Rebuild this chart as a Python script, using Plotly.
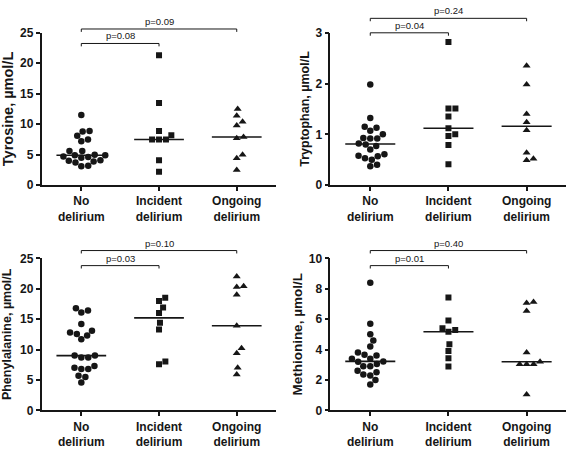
import numpy as np
import plotly.graph_objects as go

# ---------------- data ----------------
groups = ["No<br>delirium", "Incident<br>delirium", "Ongoing<br>delirium"]

tyr_no = [11.5, 8.9, 8.8, 8.1, 7.5, 7.2, 5.6, 5.6, 5.0, 4.9, 4.9, 4.7, 4.6, 4.5, 4.1, 4.0, 3.9, 3.7, 3.2, 3.1]
tyr_inc = [21.3, 13.5, 8.9, 8.2, 7.5, 7.5, 7.5, 4.1, 2.2]
tyr_ong = [12.5, 11.4, 10.4, 9.8, 7.9, 7.7, 5.0, 4.4, 2.5]

trp_no = [1.98, 1.32, 1.15, 1.13, 1.07, 1.0, 0.93, 0.92, 0.92, 0.82, 0.80, 0.77, 0.70, 0.61, 0.58, 0.57, 0.53, 0.50, 0.40, 0.37]
trp_inc = [2.82, 1.51, 1.51, 1.35, 1.12, 1.0, 0.97, 0.79, 0.41]
trp_ong = [2.35, 1.98, 1.40, 1.24, 1.08, 0.64, 0.52, 0.49]

phe_no = [16.8, 16.4, 16.1, 14.2, 13.1, 12.8, 12.55, 12.3, 11.7, 9.0, 9.0, 8.7, 8.7, 7.3, 7.0, 6.8, 6.8, 5.7, 5.5, 4.6]
phe_inc = [18.5, 18.0, 16.9, 16.0, 14.4, 13.3, 8.05, 7.6]
phe_ong = [22.0, 20.4, 20.3, 19.0, 13.9, 10.2, 9.4, 7.0, 5.9]

met_no = [8.4, 5.7, 5.0, 4.6, 4.2, 3.8, 3.65, 3.6, 3.4, 3.4, 3.22, 3.2, 3.05, 2.9, 2.9, 2.6, 2.5, 2.35, 2.3, 2.0, 1.7]
met_inc = [7.42, 5.91, 5.4, 5.28, 5.17, 4.34, 3.9, 3.43, 2.88]
met_ong = [7.12, 7.06, 6.53, 3.81, 3.2, 3.03, 3.03, 3.03, 1.04]

y_titles = ["Tyrosine, µmol/L", "Tryptophan, µmol/L", "Phenylalanine, µmol/L", "Methionine, µmol/L"]
y_max = [25, 3, 25, 10]
y_dtick = [5, 1, 5, 2]
p_incident = ["p=0.08", "p=0.04", "p=0.03", "p=0.01"]
p_ongoing = ["p=0.09", "p=0.24", "p=0.10", "p=0.40"]

panel_data = [
    [tyr_no, tyr_inc, tyr_ong],
    [trp_no, trp_inc, trp_ong],
    [phe_no, phe_inc, phe_ong],
    [met_no, met_inc, met_ong],
]

# ---------------- layout helpers ----------------
W, H = 567, 449
X_MIN, X_MAX = -0.51, 2.5


def fx(px):
    return px / W


def fy(py):
    return 1 - py / H


dom_x = [[fx(37), fx(273)], [fx(328.3), fx(565.7)]] * 2
dom_y = [[fy(184.3), fy(26.7)]] * 2 + [[fy(417.3), fy(260)]] * 2
panel_w_px = 236.0
panel_h_px = 157.6
bracket_levels = [(0.93, 1.025), (1.0, 1.095), (0.952, 1.051), (0.952, 1.051)]
title_sizes = [14.5, 12.5, 12.5, 13.5]
title_standoff = [10, 3, 10, 3]

symbols = ["circle", "square", "triangle-up"]
sizes = [6.5, 6, 7]
INK = "#161616"
FONT = "Liberation Sans, Arial, sans-serif"


def swarm(vals, ymax, d=7.0):
    """Deterministic beeswarm offsets (in x data units)."""
    ypx = np.asarray(vals, float) / ymax * panel_h_px
    order = np.argsort(ypx)
    placed = []
    offs = np.zeros(len(vals))
    for i in order:
        y = ypx[i]
        cands = [0.0]
        for xj, yj in placed:
            dy = abs(y - yj)
            if dy < d:
                dx = np.sqrt(d * d - dy * dy)
                cands += [xj + dx, xj - dx]
        valid = [c for c in cands
                 if all((c - xj) ** 2 + (y - yj) ** 2 >= d * d - 1e-6 for xj, yj in placed)]
        best = min(valid, key=lambda c: (round(abs(c), 6), -c))
        placed.append((best, y))
        offs[i] = best
    return offs / (panel_w_px / (X_MAX - X_MIN))


fig = go.Figure()
shapes = []
annotations = []

for p in range(4):
    xa = "x" if p == 0 else f"x{p + 1}"
    ya = "y" if p == 0 else f"y{p + 1}"
    for g in range(3):
        vals = panel_data[p][g]
        xs = g + swarm(vals, y_max[p])
        fig.add_trace(go.Scatter(
            x=xs, y=vals, mode="markers", xaxis=xa, yaxis=ya,
            marker=dict(symbol=symbols[g], size=sizes[g], color=INK, line=dict(width=0)),
            showlegend=False, hoverinfo="y"))
        med = float(np.median(vals))
        fig.add_trace(go.Scatter(
            x=[g - 0.32, g + 0.32], y=[med, med], mode="lines", xaxis=xa, yaxis=ya,
            line=dict(color=INK, width=1.6), showlegend=False, hoverinfo="skip"))

    # brackets
    tick = 3.0 / panel_h_px
    for (g1, g2, txt, lvl) in [(0, 1, p_incident[p], bracket_levels[p][0]),
                               (0, 2, p_ongoing[p], bracket_levels[p][1])]:
        x1 = (g1 - X_MIN) / (X_MAX - X_MIN)
        x2 = (g2 - X_MIN) / (X_MAX - X_MIN)
        ref = dict(xref=f"{xa} domain", yref=f"{ya} domain")
        line = dict(color=INK, width=1)
        shapes.append(dict(type="line", x0=x1, x1=x2, y0=lvl, y1=lvl, line=line, **ref))
        shapes.append(dict(type="line", x0=x1, x1=x1, y0=lvl, y1=lvl - tick, line=line, **ref))
        shapes.append(dict(type="line", x0=x2, x1=x2, y0=lvl, y1=lvl - tick, line=line, **ref))
        annotations.append(dict(x=(x1 + x2) / 2, y=lvl, text=txt, showarrow=False,
                                xanchor="center", yanchor="bottom", yshift=0,
                                font=dict(size=9.5, color=INK, family=FONT),
                                **ref))

axis_common = dict(showline=True, linecolor=INK, linewidth=1.6, ticks="outside",
                   ticklen=4, tickwidth=1.6, tickcolor=INK, showgrid=False, zeroline=False,
                   tickfont=dict(size=12, color=INK, family=FONT, weight="bold"))

layout = dict(
    width=W, height=H, margin=dict(l=0, r=0, t=0, b=0),
    paper_bgcolor="white", plot_bgcolor="white",
    font=dict(family=FONT, color=INK),
    shapes=shapes, annotations=annotations,
)
for p in range(4):
    xk = "xaxis" if p == 0 else f"xaxis{p + 1}"
    yk = "yaxis" if p == 0 else f"yaxis{p + 1}"
    ya = "y" if p == 0 else f"y{p + 1}"
    xa = "x" if p == 0 else f"x{p + 1}"
    layout[xk] = dict(axis_common, domain=dom_x[p], range=[X_MIN, X_MAX], anchor=ya,
                      tickvals=[0, 1, 2], ticktext=groups)
    layout[yk] = dict(axis_common, domain=dom_y[p], range=[0, y_max[p]], anchor=xa,
                      dtick=y_dtick[p], tick0=0,
                      title=dict(text=y_titles[p], standoff=title_standoff[p],
                                 font=dict(size=title_sizes[p], color=INK, family=FONT,
                                           weight="bold")))

fig.update_layout(**layout)
fig.write_html("out.html",
               config={"displayModeBar": False},
               post_script="document.body.style.margin='0';document.body.style.overflow='hidden';")
